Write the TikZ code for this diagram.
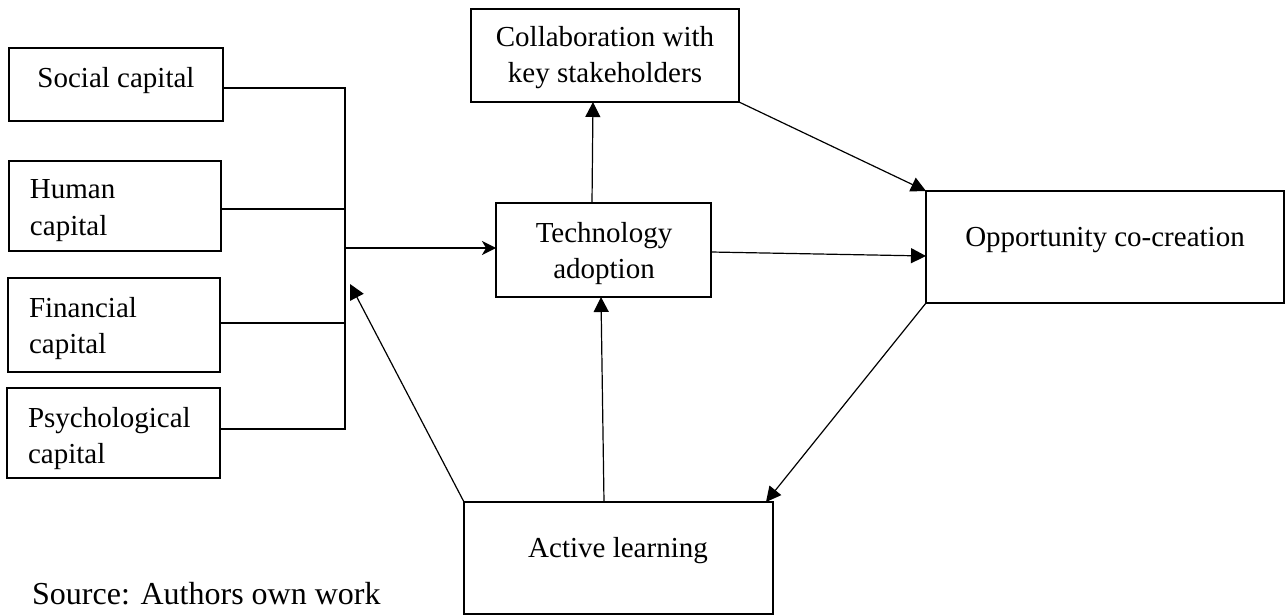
\documentclass[tikz,border=0pt]{standalone}
\usepackage{fontspec}
\setmainfont{Liberation Serif}
\usetikzlibrary{arrows.meta,calc}
\begin{document}
\begin{tikzpicture}[x=1pt,y=-1pt,
  box/.style={draw, line width=2.2pt, inner sep=0pt, outer sep=0pt, rectangle},
  txt/.style={inner sep=0pt, outer sep=0pt, font=\fontsize{29}{36}\selectfont},
  thinarrow/.style={line width=1.2pt, -{Triangle[length=15pt,width=15pt]}},
  brk/.style={line width=2pt},
  brkarrow/.style={line width=2pt, -{Stealth[length=14pt,width=14pt,inset=4pt]}},
]
\useasboundingbox (0,0) rectangle (1286,615);

% boxes
\node[box, minimum width=214pt, minimum height=73pt] (soc) at (116,84.5) {};
\node[box, minimum width=212pt, minimum height=90pt] (hum) at (115,206) {};
\node[box, minimum width=212pt, minimum height=94pt] (fin) at (114,325) {};
\node[box, minimum width=213pt, minimum height=90pt] (psy) at (113.5,433) {};
\node[box, minimum width=268pt, minimum height=93pt] (collab) at (605,55.5) {};
\node[box, minimum width=215pt, minimum height=94pt] (tech) at (603.5,250) {};
\node[box, minimum width=358pt, minimum height=112pt] (opp) at (1105,247) {};
\node[box, minimum width=309pt, minimum height=112pt] (act) at (618.5,558) {};

% texts
\node[txt, anchor=base] (socT) at (116,88) {Social capital};
\node[txt, anchor=north west, align=left] (humT) at (30,173.8) {\strut Human\\capital};
\node[txt, anchor=north west, align=left] (finT) at (29,291.8) {\strut Financial\\capital};
\node[txt, anchor=north west, align=left] (psyT) at (28,401.8) {\strut Psychological\\capital};
\node[txt, anchor=north, align=center] (collabT) at (605,21.8) {\strut Collaboration with\\key stakeholders};
\node[txt, anchor=north, align=center] (techT) at (604,216.8) {\strut Technology\\adoption};
\node[txt, anchor=base] (oppT) at (1105,246) {Opportunity co-creation};
\node[txt, anchor=base] (actT) at (618,557) {Active learning};
\node[inner sep=0pt, anchor=base west, font=\fontsize{32}{38}\selectfont] (src) at (32,604) {Source: Authors own work};

% bracket
\coordinate (b1) at (345,88);
\coordinate (b2) at (345,209);
\coordinate (b3) at (345,323);
\coordinate (b4) at (345,429);
\coordinate (bm) at (345,248);
\coordinate (bin) at (350,284);

\draw[brk] (soc.east |- b1) -- (b1) -- (b4) -- (psy.east |- b4);
\draw[brk] (hum.east |- b2) -- (b2);
\draw[brk] (fin.east |- b3) -- (b3);
\draw[brkarrow] (bm) -- (tech.west |- bm);

% connectors
\draw[thinarrow] ([xshift=-11.5pt]tech.north) -- ([xshift=-12pt]collab.south);
\draw[thinarrow] (collab.south east) -- (opp.north west);
\draw[thinarrow] ([yshift=-2pt]tech.east) -- ([yshift=-9pt]opp.west);
\draw[thinarrow] (opp.south west) -- ([xshift=-7pt]act.north east);
\draw[thinarrow] ([xshift=-14.5pt]act.north) -- ([xshift=-2.5pt]tech.south);
\draw[thinarrow] (act.north west) -- (bin);
\end{tikzpicture}
\end{document}
